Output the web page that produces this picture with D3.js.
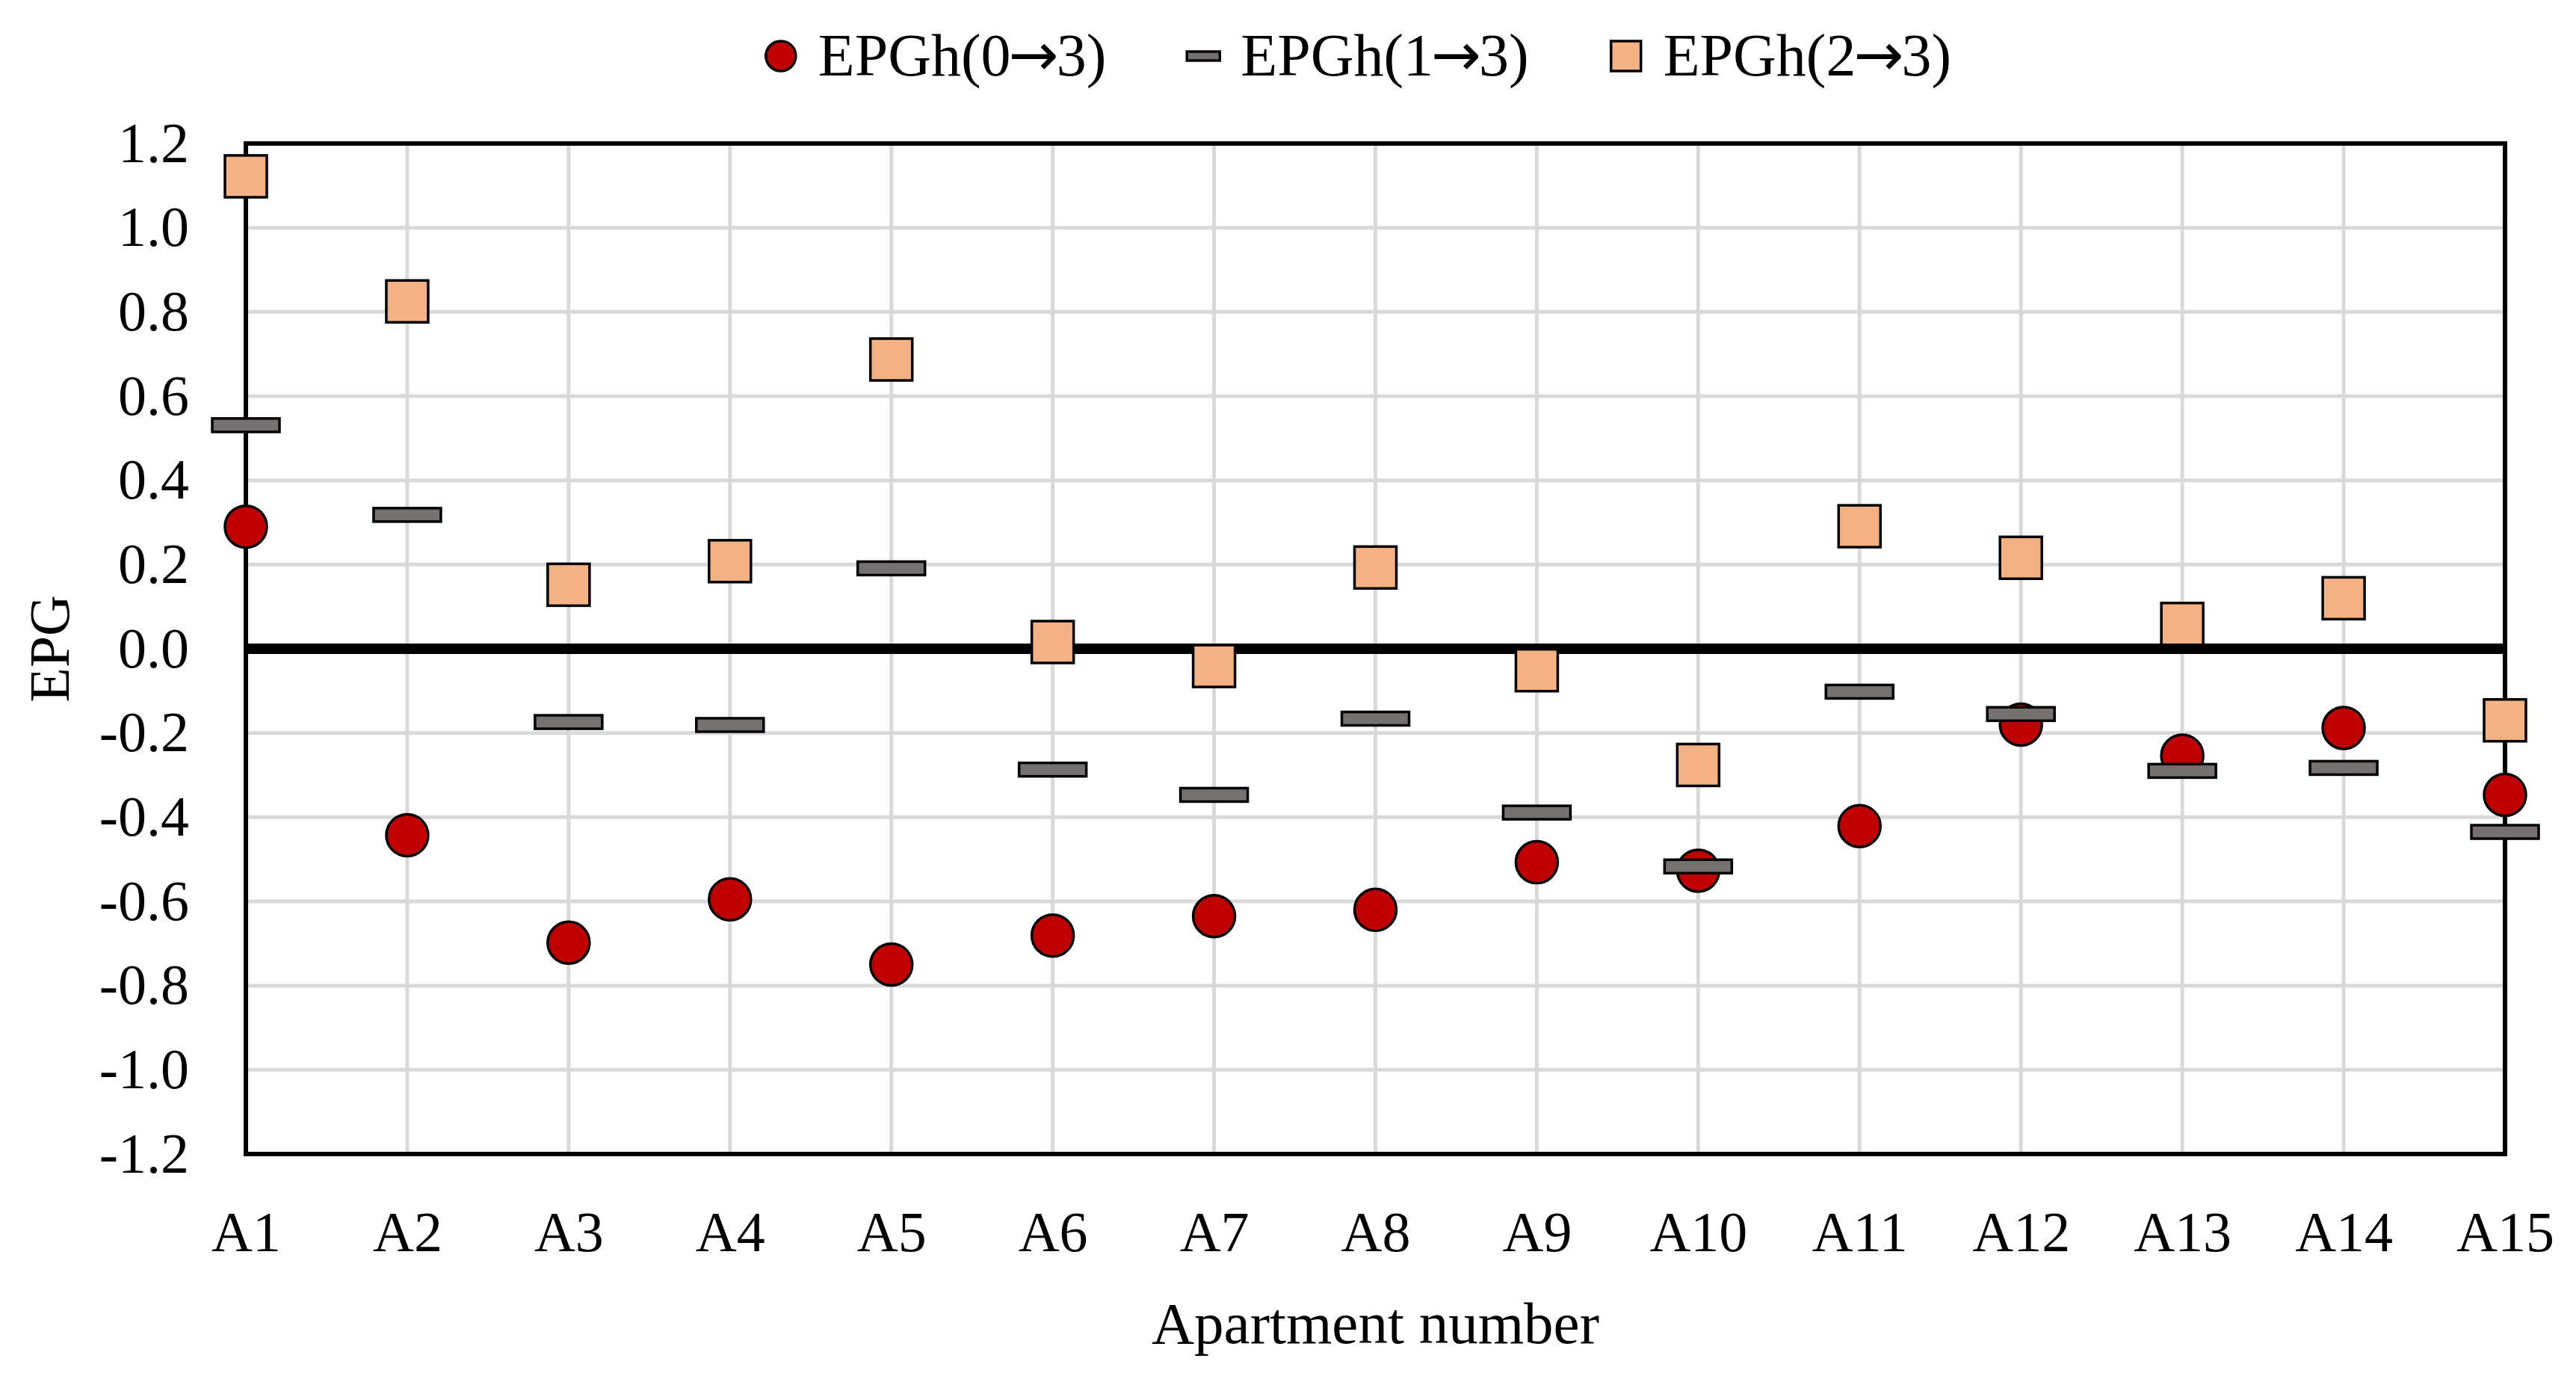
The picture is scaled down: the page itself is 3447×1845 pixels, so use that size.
<!DOCTYPE html>
<html>
<head>
<meta charset="utf-8">
<script src="https://cdn.jsdelivr.net/npm/d3@7"></script>
<style>
  body { margin: 0; background: #fff; }
  text { font-family: "Palatino Linotype", "Book Antiqua", Palatino, "Liberation Serif", serif; }
</style>
</head>
<body>
<svg id="chart" width="3447" height="1845"></svg>
<script>
// data
const apartments = ["A1", "A2", "A3", "A4", "A5", "A6", "A7", "A8", "A9", "A10", "A11", "A12", "A13", "A14", "A15"];
const epg03 = [0.29, -0.443, -0.698, -0.595, -0.750, -0.681, -0.635, -0.620, -0.507, -0.527, -0.421, -0.180, -0.254, -0.188, -0.347];
const epg13 = [0.531, 0.318, -0.174, -0.181, 0.191, -0.287, -0.347, -0.166, -0.389, -0.517, -0.102, -0.155, -0.290, -0.283, -0.435];
const epg23 = [1.122, 0.825, 0.152, 0.208, 0.687, 0.016, -0.041, 0.193, -0.051, -0.276, 0.291, 0.216, 0.059, 0.120, -0.170];
const seriesNames = ["EPGh(0\u21923)", "EPGh(1\u21923)", "EPGh(2\u21923)"];
const yTicks = [-1.2, -1.0, -0.8, -0.6, -0.4, -0.2, 0, 0.2, 0.4, 0.6, 0.8, 1.0, 1.2];

const width = 3447, height = 1845;
const margin = {left: 329, right: 95, top: 192, bottom: 301};
const fontSize = 76;

const svg = d3.select("#chart");

const x = d3.scalePoint()
    .domain(apartments)
    .range([margin.left, width - margin.right]);

const y = d3.scaleLinear()
    .domain([-1.2, 1.2])
    .range([height - margin.bottom, margin.top]);

const fmt = d => d3.format(".1f")(d).replace("\u2212", "-");

// grid
const grid = svg.append("g");
grid.selectAll("line.h")
    .data(yTicks.filter(d => Math.abs(d) > 0.01 && Math.abs(d) < 1.19))
    .enter().append("line")
    .attr("x1", x.range()[0]).attr("x2", x.range()[1])
    .attr("y1", d => y(d)).attr("y2", d => y(d))
    .attr("stroke", "#d9d9d9").attr("stroke-width", 5);
grid.selectAll("line.v")
    .data(apartments.slice(1, -1))
    .enter().append("line")
    .attr("x1", d => x(d)).attr("x2", d => x(d))
    .attr("y1", y(1.2)).attr("y2", y(-1.2))
    .attr("stroke", "#d9d9d9").attr("stroke-width", 5);

// plot box
svg.append("rect")
    .attr("x", x.range()[0]).attr("y", y(1.2))
    .attr("width", x.range()[1] - x.range()[0])
    .attr("height", y(-1.2) - y(1.2))
    .attr("fill", "none").attr("stroke", "black").attr("stroke-width", 6);

// zero line
svg.append("line")
    .attr("x1", x.range()[0]).attr("x2", x.range()[1])
    .attr("y1", y(0)).attr("y2", y(0))
    .attr("stroke", "black").attr("stroke-width", 14);

// axes (labels only)
const yAxis = svg.append("g")
    .attr("transform", "translate(" + (margin.left - 76) + ",0)")
    .call(d3.axisLeft(y).tickValues(yTicks).tickFormat(fmt).tickSize(0).tickPadding(0));
yAxis.select(".domain").remove();
yAxis.selectAll("text")
    .style("font-size", fontSize + "px")
    .attr("fill", "black")
    .attr("font-family", null);

const xAxis = svg.append("g")
    .attr("transform", "translate(0," + (y(-1.2) + 76) + ")")
    .call(d3.axisBottom(x).tickSize(0).tickPadding(0));
xAxis.select(".domain").remove();
xAxis.selectAll("text")
    .style("font-size", fontSize + "px")
    .attr("fill", "black")
    .attr("font-family", null);

// axis titles
svg.append("text")
    .attr("x", (x.range()[0] + x.range()[1]) / 2)
    .attr("y", 1797)
    .attr("text-anchor", "middle")
    .style("font-size", "79px")
    .text("Apartment number");

svg.append("text")
    .attr("transform", "translate(92," + y(0) + ") rotate(-90)")
    .attr("text-anchor", "middle")
    .style("font-size", fontSize + "px")
    .text("EPG");

// series marks
const marks = svg.append("g");

marks.selectAll("circle")
    .data(epg03)
    .enter().append("circle")
    .attr("cx", (d, i) => x(apartments[i]))
    .attr("cy", d => y(d))
    .attr("r", 28)
    .attr("fill", "#c00000")
    .attr("stroke", "black")
    .attr("stroke-width", 3.5);

marks.selectAll("rect.dash")
    .data(epg13)
    .enter().append("rect")
    .attr("class", "dash")
    .attr("x", (d, i) => x(apartments[i]) - 45)
    .attr("y", d => y(d) - 9)
    .attr("width", 90)
    .attr("height", 18)
    .attr("fill", "#767171")
    .attr("stroke", "black")
    .attr("stroke-width", 3.5);

marks.selectAll("rect.sq")
    .data(epg23)
    .enter().append("rect")
    .attr("class", "sq")
    .attr("x", (d, i) => x(apartments[i]) - 28)
    .attr("y", d => y(d) - 28)
    .attr("width", 56)
    .attr("height", 56)
    .attr("fill", "#f4b183")
    .attr("stroke", "black")
    .attr("stroke-width", 3.5);

// legend
const legend = svg.append("g");
var cursor = 0;
seriesNames.forEach(function(name, i) {
  const item = legend.append("g").attr("transform", "translate(" + cursor + ",0)");
  if (i === 0) {
    item.append("circle").attr("cx", 22).attr("cy", 0).attr("r", 20)
        .attr("fill", "#c00000").attr("stroke", "black").attr("stroke-width", 3.5);
  } else if (i === 1) {
    item.append("rect").attr("x", 0).attr("y", -6).attr("width", 44).attr("height", 12)
        .attr("fill", "#767171").attr("stroke", "black").attr("stroke-width", 3.5);
  } else {
    item.append("rect").attr("x", 2).attr("y", -20).attr("width", 40).attr("height", 40)
        .attr("fill", "#f4b183").attr("stroke", "black").attr("stroke-width", 3.5);
  }
  // the arrow glyph is set in a sans font so it reads as a long, tight arrow
  const parts = name.split("\u2192");
  const t = item.append("text")
      .attr("x", 72)
      .attr("y", 0)
      .attr("dy", "0.33em")
      .style("font-size", "80px");
  t.append("tspan").text(parts[0]);
  t.append("tspan").style("font-family", "'DejaVu Sans'").attr("dx", -3).text("\u2192");
  t.append("tspan").attr("dx", -3).text(parts[1]);
  cursor += 72 + t.node().getComputedTextLength() + 102;
});
const legendWidth = cursor - 102;
legend.attr("transform", "translate(" + (1820 - legendWidth / 2) + ",75)");
</script>
</body>
</html>
